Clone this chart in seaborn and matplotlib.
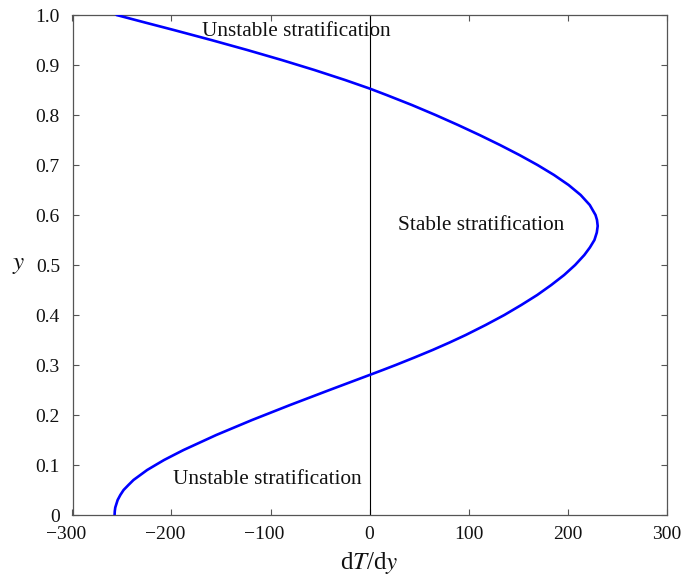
import matplotlib
matplotlib.use("Agg")
import matplotlib.pyplot as plt
import matplotlib.transforms as mtransforms
import seaborn as sns
import pandas as pd

# Temperature-gradient profile across the layer (height y, gradient dT/dy)
height_y = [0.000, 0.0075, 0.015, 0.020, 0.030, 0.040, 0.050, 0.060, 0.070,
            0.080, 0.090, 0.100, 0.110, 0.120, 0.130, 0.145, 0.160, 0.175,
            0.190, 0.205, 0.220, 0.235, 0.250, 0.265, 0.280, 0.290, 0.300,
            0.315, 0.330, 0.345, 0.360, 0.380, 0.400, 0.420, 0.440, 0.460,
            0.480, 0.500, 0.520, 0.535, 0.550, 0.565, 0.578, 0.590, 0.600,
            0.620, 0.640, 0.660, 0.680, 0.700, 0.720, 0.740, 0.760, 0.780,
            0.800, 0.820, 0.840, 0.853, 0.870, 0.890, 0.910, 0.930, 0.950,
            0.970, 0.985, 1.000]
gradient_dTdy = [-257.5, -257.3, -256.8, -256.0, -254.4, -251.7, -248.4, -243.5, -238.4,
                 -231.5, -224.6, -216.1, -207.5, -197.7, -187.8, -171.3, -154.8, -136.7,
                 -118.6, -99.4, -80.2, -60.3, -40.4, -20.2, 0.0, 13.4, 26.5,
                 45.4, 63.7, 80.9, 97.2, 117.3, 136.2, 153.3, 169.4, 183.6,
                 196.6, 207.7, 217.0, 222.6, 227.2, 229.6, 230.5, 229.8, 228.3,
                 222.5, 213.3, 201.1, 186.4, 169.7, 151.4, 131.8, 111.1, 89.4,
                 66.7, 42.8, 17.2, 0.0, -24.7, -55.7, -88.7, -123.5, -159.9,
                 -197.7, -226.8, -255.5]

x_ticks = [-300, -200, -100, 0, 100, 200, 300]
y_ticks = [0, 0.1, 0.2, 0.3, 0.4, 0.5, 0.6, 0.7, 0.8, 0.9, 1.0]
y_tick_labels = ["0", "0.1", "0.2", "0.3", "0.4", "0.5", "0.6", "0.7", "0.8", "0.9", "1.0"]

region_labels = ["Unstable stratification", "Stable stratification", "Unstable stratification"]
region_x = [-74, 113, -103]
region_y = [0.966, 0.580, 0.070]

profile = pd.DataFrame({"dTdy": gradient_dTdy, "y": height_y})

sns.set_style("ticks")
plt.rcParams["font.family"] = ["Liberation Serif", "DejaVu Serif"]
plt.rcParams["mathtext.fontset"] = "stix"
plt.rcParams["axes.unicode_minus"] = True

fig, ax = plt.subplots(figsize=(6.83, 5.79), dpi=100)
fig.subplots_adjust(left=72.5 / 683, right=666.5 / 683,
                    bottom=1 - 515 / 579, top=1 - 15 / 579)

# zero-gradient reference line
ax.axvline(0, color="black", linewidth=0.8, zorder=1)

sns.lineplot(data=profile, x="dTdy", y="y", sort=False, estimator=None,
             color="#0000ff", linewidth=1.9, ax=ax, zorder=3)

for txt, tx, ty in zip(region_labels, region_x, region_y):
    ax.text(tx, ty, txt, ha="center", va="center", fontsize=15.3, color="#111111")

ax.set_xlim(-300, 300)
ax.set_ylim(0, 1.0)
ax.set_xticks(x_ticks)
ax.set_yticks(y_ticks)
ax.set_yticklabels(y_tick_labels)

ax.tick_params(direction="in", length=4, width=0.8, colors="#555555",
               labelcolor="#111111", labelsize=14, top=True, right=True)
ax.tick_params(axis="x", pad=8)
ax.tick_params(axis="y", pad=9)
for side in ax.spines.values():
    side.set_color("#555555")
    side.set_linewidth(0.9)

# negative tick labels sit slightly left of their ticks
shift_left = mtransforms.ScaledTranslation(-6 / 100, 0, fig.dpi_scale_trans)
for val, lab in zip(x_ticks, ax.get_xticklabels()):
    if val < 0:
        lab.set_transform(lab.get_transform() + shift_left)

ax.set_xlabel("d$T$/d$y$", fontsize=18, color="#111111", labelpad=5)
ax.set_ylabel("$y$", fontsize=18, color="#111111", rotation=0, labelpad=12,
              va="center")

fig.savefig("out.png", dpi=100)
